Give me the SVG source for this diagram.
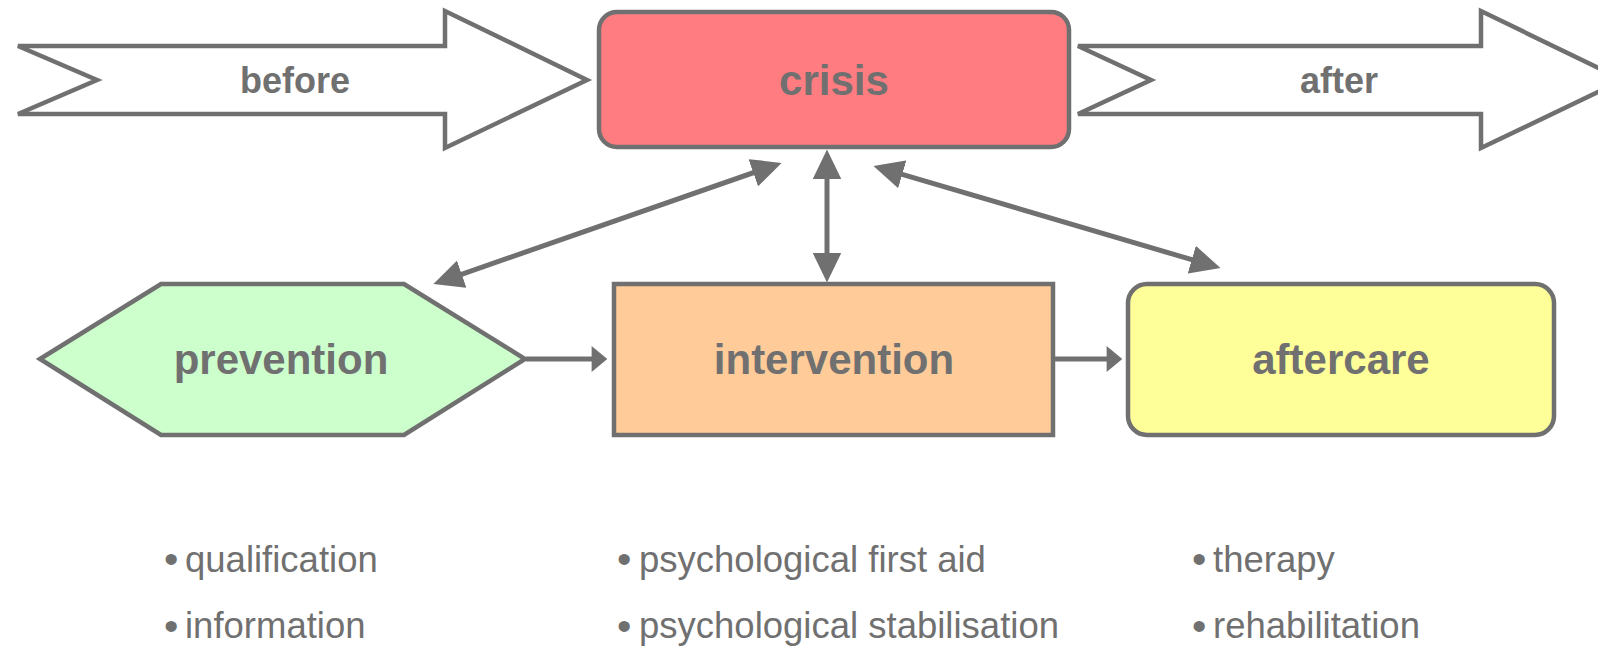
<svg xmlns="http://www.w3.org/2000/svg" width="1598" height="647" viewBox="0 0 1598 647">
<style>
.node{stroke:#707070;stroke-width:4.5;stroke-linejoin:miter}
.lbl{font-family:"Liberation Sans",Arial,sans-serif;font-weight:bold;fill:#707070;text-anchor:middle}
.big{font-size:42px}
.mid{font-size:36px}
.item{font-family:"Liberation Sans",Arial,sans-serif;font-size:36.5px;fill:#707070}
.bul{font-family:"Liberation Sans",Arial,sans-serif;font-size:41px;fill:#707070}
.con{stroke:#707070;stroke-width:5;fill:none}
</style>
<defs>
<marker id="ah" markerUnits="userSpaceOnUse" markerWidth="30" markerHeight="29" refX="20" refY="13.5" orient="auto-start-reverse" viewBox="0 0 28 27">
<path d="M0,0 L28,13.5 L0,27 z" fill="#707070"/>
</marker>
<marker id="as" markerUnits="userSpaceOnUse" markerWidth="16" markerHeight="26" refX="10" refY="12.5" orient="auto" viewBox="0 0 15 25">
<path d="M0,0 L15,12.5 L0,25 z" fill="#707070"/>
</marker>
</defs>
<g id="before">
<polygon class="node" fill="#ffffff" points="18,46 97,80 18,114 445,114 445,148 587,80 445,11 445,46"/>
<text class="lbl mid" x="295" y="93">before</text>
</g>
<g id="after">
<polygon class="node" fill="#ffffff" points="1078,46 1151,80 1078,114 1481,114 1481,148 1623,80 1481,11 1481,46"/>
<text class="lbl mid" x="1339" y="93">after</text>
</g>
<g id="crisis">
<rect class="node" fill="#ff7c80" x="599" y="12" width="470" height="135" rx="18" ry="18"/>
<text class="lbl big" x="834" y="95">crisis</text>
</g>
<g id="prevention">
<polygon class="node" fill="#ccffcc" points="40,359 161,284 404,284 525,359 404,435 161,435"/>
<text class="lbl big" x="281" y="374">prevention</text>
</g>
<g id="intervention">
<rect class="node" fill="#ffcc99" x="614" y="284" width="439" height="151"/>
<text class="lbl big" x="834" y="374">intervention</text>
</g>
<g id="aftercare">
<rect class="node" fill="#ffff99" x="1128" y="284" width="426" height="151" rx="19" ry="19"/>
<text class="lbl big" x="1341" y="374">aftercare</text>
</g>
<g id="connectors">
<line class="con" x1="773.5" y1="165.7" x2="441.5" y2="281.3" marker-start="url(#ah)" marker-end="url(#ah)"/>
<line class="con" x1="827" y1="158" x2="827" y2="274" marker-start="url(#ah)" marker-end="url(#ah)"/>
<line class="con" x1="881.7" y1="168.3" x2="1212.3" y2="265.7" marker-start="url(#ah)" marker-end="url(#ah)"/>
<line class="con" x1="526" y1="359" x2="602" y2="359" marker-end="url(#as)"/>
<line class="con" x1="1055" y1="359" x2="1117" y2="359" marker-end="url(#as)"/>
</g>
<g id="lists">
<text class="bul" x="164" y="573">•</text><text class="item" x="185" y="571.5">qualification</text>
<text class="bul" x="164" y="639.5">•</text><text class="item" x="185" y="638">information</text>
<text class="bul" x="617" y="573">•</text><text class="item" x="639" y="571.5">psychological first aid</text>
<text class="bul" x="617" y="639.5">•</text><text class="item" x="639" y="638">psychological stabilisation</text>
<text class="bul" x="1192" y="573">•</text><text class="item" x="1213" y="571.5">therapy</text>
<text class="bul" x="1192" y="639.5">•</text><text class="item" x="1213" y="638">rehabilitation</text>
</g>
</svg>
